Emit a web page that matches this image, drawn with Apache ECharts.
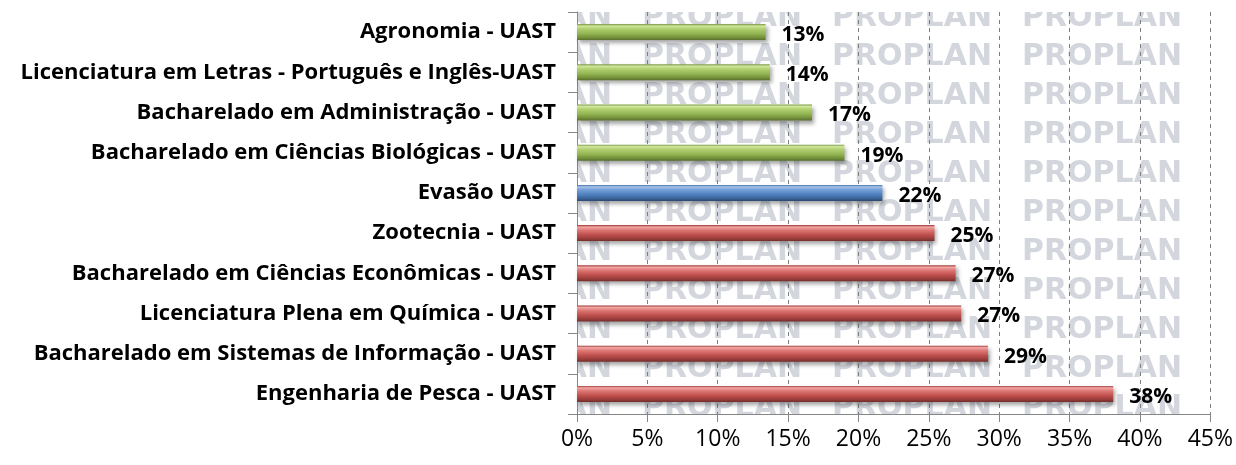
<!DOCTYPE html>
<html>
<head>
<meta charset="utf-8">
<script src="https://cdn.jsdelivr.net/npm/echarts@6/dist/echarts.min.js"></script>
<style>
  html, body { margin: 0; padding: 0; background: #fff; }
  #grafico { width: 1236px; height: 465px; }
</style>
</head>
<body>
<div id="grafico"></div>
<script>
// cursos (de cima para baixo)
const cursos = [
  'Agronomia - UAST',
  'Licenciatura em Letras - Português e Inglês-UAST',
  'Bacharelado em Administração - UAST',
  'Bacharelado em Ciências Biológicas - UAST',
  'Evasão UAST',
  'Zootecnia - UAST',
  'Bacharelado em Ciências Econômicas - UAST',
  'Licenciatura Plena em Química - UAST',
  'Bacharelado em Sistemas de Informação - UAST',
  'Engenharia de Pesca - UAST'
];
// taxa de evasão (%)
const evasao = [13.4, 13.7, 16.7, 19.0, 21.7, 25.4, 26.9, 27.3, 29.2, 38.1];
// eixo x
const eixoMin = 0;
const eixoMax = 45;
const eixoPasso = 5;

const media = evasao[cursos.indexOf('Evasão UAST')];

// área do gráfico
const G = { left: 577, right: 24, top: 12, bottom: 51 };

// degradê "cilindro" estilo Excel 2007
const cilindro = (c) => new echarts.graphic.LinearGradient(0, 0, 0, 1, [
  { offset: 0, color: c[0] },
  { offset: 0.12, color: c[1] },
  { offset: 0.3, color: c[2] },
  { offset: 0.6, color: c[3] },
  { offset: 0.85, color: c[4] },
  { offset: 1, color: c[5] }
]);
const verde = ['#7d9a46', '#cfe69d', '#b0d070', '#93b452', '#728f3a', '#56702a'];
const azul = ['#3d6aa3', '#a6c3ea', '#74a0d9', '#4f80bf', '#3b6398', '#2c4a74'];
const vermelho = ['#9e3a38', '#f2a7a5', '#de7a77', '#c0504d', '#983d3b', '#742d2b'];

// marca d'água PROPLAN (padrão repetido)
const tile = document.createElement('canvas');
tile.width = 190;
tile.height = 39;
const ctx = tile.getContext('2d');
ctx.fillStyle = '#d3d7dd';
ctx.font = 'bold 30px "DejaVu Sans", sans-serif';
ctx.textBaseline = 'alphabetic';
ctx.fillText('PROPLAN', 72, 26);
ctx.fillText('PROPLAN', 72 - 190, 26);

const grafico = echarts.init(document.getElementById('grafico'));

const fonte = 'Open Sans';

grafico.setOption({
  animation: false,
  backgroundColor: '#fff',
  grid: { left: G.left, right: G.right, top: G.top, bottom: G.bottom, containLabel: false },
  graphic: [{
    type: 'rect',
    z: -1,
    silent: true,
    shape: { x: G.left, y: G.top, width: 1236 - G.left - G.right, height: 465 - G.top - G.bottom },
    style: { fill: { image: tile, repeat: 'repeat' } }
  }],
  xAxis: {
    type: 'value',
    min: eixoMin,
    max: eixoMax,
    interval: eixoPasso,
    axisLine: { show: true, lineStyle: { color: '#868686', width: 1 } },
    axisTick: { show: true, length: 8, lineStyle: { color: '#868686' } },
    splitLine: { show: true, lineStyle: { color: '#7f7f7f', type: [4, 4], width: 1 } },
    axisLabel: {
      formatter: '{value}%',
      margin: 14,
      color: '#000',
      fontFamily: fonte,
      fontSize: 23
    }
  },
  yAxis: {
    type: 'category',
    inverse: true,
    data: cursos,
    axisLine: { show: true, lineStyle: { color: '#868686', width: 1 } },
    axisTick: { show: true, length: 9, lineStyle: { color: '#868686' } },
    axisLabel: {
      margin: 21,
      color: '#000',
      fontFamily: fonte,
      fontWeight: 'bold',
      fontSize: 22
    }
  },
  series: [{
    type: 'bar',
    barWidth: 16,
    data: evasao.map((v) => ({
      value: v,
      itemStyle: {
        color: cilindro(v < media ? verde : (v === media ? azul : vermelho))
      }
    })),
    itemStyle: {
      shadowBlur: 4,
      shadowOffsetX: 2,
      shadowOffsetY: 3,
      shadowColor: 'rgba(0,0,0,0.35)'
    },
    label: {
      show: true,
      position: 'right',
      distance: 16,
      offset: [0, 3],
      formatter: (p) => Math.round(p.value) + '%',
      color: '#000',
      fontFamily: fonte,
      fontWeight: 'bold',
      fontSize: 21
    }
  }]
});
</script>
</body>
</html>
